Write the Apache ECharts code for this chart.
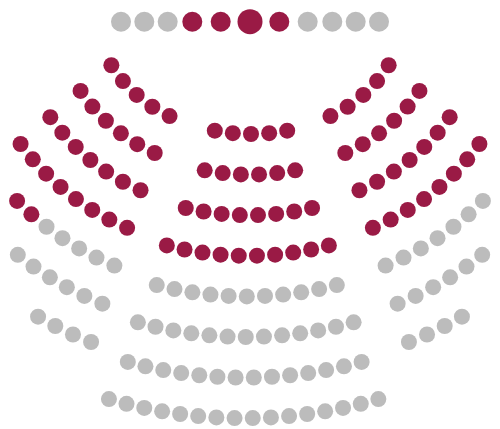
<!DOCTYPE html>
<html>
<head>
<meta charset="utf-8">
<script src="https://cdn.jsdelivr.net/npm/echarts@6/dist/echarts.min.js"></script>
<style>
  html, body { margin: 0; padding: 0; background: #fff; }
  #main { width: 500px; height: 429px; }
</style>
</head>
<body>
<div id="main"></div>
<script>
// seat counts, inner row -> outer row
var centerRowSeats = [5, 6, 8, 10, 11, 13, 14, 16];
var centerRowRed = [5, 6, 8, 10, 0, 0, 0, 0];
var wingRowSeats = [5, 6, 7, 8, 7, 6, 4];
var leftWingRed = [5, 6, 7, 8, 2, 0, 0];   // red seats sit at the outer end of a row
var rightWingRed = [5, 6, 7, 8, 0, 0, 0];
// front bench, left -> right
var frontRow = ['grey', 'grey', 'grey', 'red', 'red', 'chair', 'red', 'grey', 'grey', 'grey', 'grey'];

var RED = '#9a1a45';
var GREY = '#bcbcbc';

// layout (pixels)
var centerArc = { x: 251, shift: -1.05, y: -66, r0: 200, dr: 40.6, pitch: 18.2 };
var wingArc = { x: 224.5, y: -5.6, r0: 133.5, dr: 39.8, pitch: 19.6, inner0: 24.3, innerStep: -0.55 };
var frontY = 21.7;
var frontSteps = [29.3, 28.4, 24.6, 23.4, 23.3]; // from the chair outward
var seatSize = 16;

var redSeats = [];
var greySeats = [];

// centre block
for (var k = 0; k < centerRowSeats.length; k++) {
  var n = centerRowSeats[k];
  var r = centerArc.r0 + centerArc.dr * k;
  var cx = centerArc.x + centerArc.shift * k;
  var step = centerArc.pitch / r;
  for (var j = 0; j < n; j++) {
    var a = (j - (n - 1) / 2) * step;
    var p = { value: [cx + r * Math.sin(a), centerArc.y + r * Math.cos(a)], symbolSize: seatSize };
    if (j < centerRowRed[k]) redSeats.push(p); else greySeats.push(p);
  }
}

// wings, j = 0 is the seat nearest the centre block
function wing(side, reds) {
  var cx = side < 0 ? wingArc.x : 500 - wingArc.x;
  for (var k = 0; k < wingRowSeats.length; k++) {
    var n = wingRowSeats[k];
    var r = wingArc.r0 + wingArc.dr * k;
    var inner = (wingArc.inner0 + wingArc.innerStep * k) * Math.PI / 180;
    for (var j = 0; j < n; j++) {
      var a = inner + j * wingArc.pitch / r;
      var p = { value: [cx + side * r * Math.sin(a), wingArc.y + r * Math.cos(a)], symbolSize: seatSize };
      if (j >= n - reds[k]) redSeats.push(p); else greySeats.push(p);
    }
  }
}
wing(-1, leftWingRed);
wing(1, rightWingRed);

// front bench
var mid = frontRow.indexOf('chair');
for (var i = 0; i < frontRow.length; i++) {
  var d = i - mid, x = 250;
  for (var s = 0; s < Math.abs(d); s++) x += (d < 0 ? -1 : 1) * frontSteps[s];
  var p = { value: [x, frontY], symbolSize: frontRow[i] == 'chair' ? 25 : 20 };
  if (frontRow[i] == 'grey') greySeats.push(p); else redSeats.push(p);
}

var chart = echarts.init(document.getElementById('main'));
chart.setOption({
  animation: false,
  grid: { left: 0, right: 0, top: 0, bottom: 0 },
  xAxis: { type: 'value', min: 0, max: 500, show: false },
  yAxis: { type: 'value', min: 0, max: 429, inverse: true, show: false },
  series: [
    { name: 'red', type: 'scatter', data: redSeats, itemStyle: { color: RED, opacity: 1 } },
    { name: 'grey', type: 'scatter', data: greySeats, itemStyle: { color: GREY, opacity: 1 } }
  ]
});
</script>
</body>
</html>
